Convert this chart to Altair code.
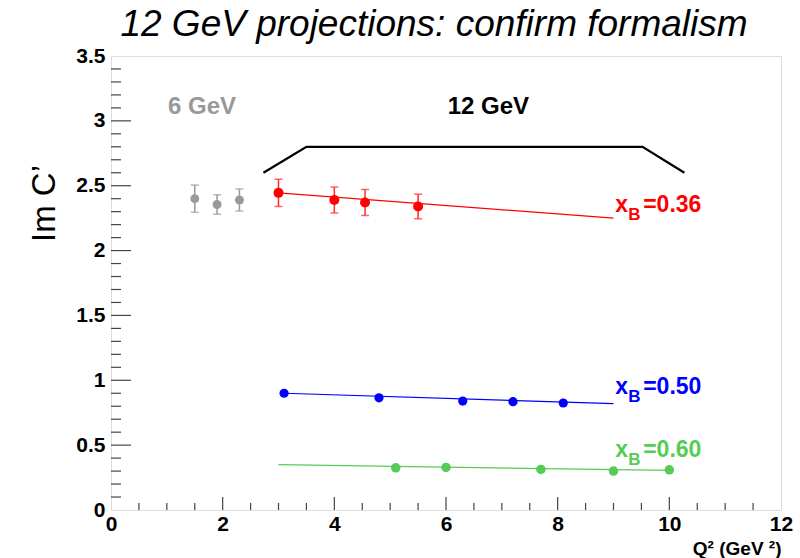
import altair as alt
import numpy as np
import pandas as pd

FONT = "Liberation Sans"

# ---- measurements ----------------------------------------------------------
# 6 GeV data (x_B = 0.36)
gray_q2 = [1.5, 1.9, 2.3]
gray_im = [2.40, 2.355, 2.39]
gray_err = [0.105, 0.075, 0.085]

# 12 GeV projections
red_q2 = [3.0, 4.0, 4.55, 5.5]
red_im = [2.445, 2.39, 2.37, 2.34]
red_err = [0.105, 0.10, 0.10, 0.095]

blue_q2 = [3.1, 4.8, 6.3, 7.2, 8.1]
blue_im = [0.90, 0.865, 0.84, 0.835, 0.825]

green_q2 = [5.1, 6.0, 7.7, 9.0, 10.0]
green_im = [0.325, 0.328, 0.313, 0.30, 0.31]

# model curves
red_fit_q2 = [3.0, 9.0]
red_fit_im = [2.445, 2.25]
blue_fit_q2 = [3.1, 9.0]
blue_fit_im = [0.90, 0.82]
green_fit_q2 = [3.0, 10.0]
green_fit_im = [0.35, 0.305]

# bracket marking the 12 GeV reach
bracket_q2 = [2.73, 3.5, 9.52, 10.27]
bracket_im = [2.60, 2.80, 2.80, 2.60]

# curve labels
xb_values = ["=0.36", "=0.50", "=0.60"]
xb_q2 = [9.03, 9.03, 9.03]
xb_im = [2.30, 0.898, 0.41]
xb_colors = ["#ff0000", "#0000ff", "#55cc55"]

# beam-energy labels
beam_text = ["6 GeV", "12 GeV"]
beam_q2 = [1.02, 6.03]
beam_im = [3.05, 3.05]
beam_colors = ["#999999", "#000000"]

# axis ticks
x_labels = [0, 2, 4, 6, 8, 10, 12]
y_labels = [0, 0.5, 1, 1.5, 2, 2.5, 3, 3.5]
x_major = [2, 4, 6, 8, 10]
x_minor = [v for v in np.round(np.arange(0.5, 12, 0.5), 2) if v not in x_major]
y_major = [0.5, 1, 1.5, 2, 2.5, 3]
y_minor = [v for v in np.round(np.arange(0.1, 3.5, 0.1), 2) if v not in y_major]

# ---- scales / axes ----------------------------------------------------------
xs = alt.Scale(domain=[0, 12], nice=False, zero=False)
ys = alt.Scale(domain=[0, 3.5], nice=False, zero=False)

x_axis = alt.Axis(
    values=x_labels, ticks=False, domain=False, grid=False,
    labelFont=FONT, labelFontSize=21, labelFontWeight="bold", labelColor="black",
    labelPadding=3, labelFlush=False, labelOverlap=False, labelBound=False,
    title="Q² (GeV ²)", titleFont=FONT, titleFontSize=19, titleFontWeight="bold",
    titleColor="black", titleX=670, titleY=38, titleAlign="right",
    titleBaseline="middle", titleAnchor="end",
)
y_axis = alt.Axis(
    values=y_labels, format="~g", ticks=False, domain=False, grid=False,
    labelFont=FONT, labelFontSize=21, labelFontWeight="bold", labelColor="black",
    labelPadding=6, labelFlush=False, labelOverlap=False, labelBound=False,
    title="Im C’", titleFont=FONT, titleFontSize=33, titleFontWeight="normal",
    titleColor="black", titleAngle=270, titleX=-67, titleY=147,
    titleAlign="center", titleBaseline="middle",
)


def X(field):
    return alt.X(f"{field}:Q", scale=xs, axis=x_axis)


def Y(field):
    return alt.Y(f"{field}:Q", scale=ys, axis=y_axis)


def frame(q2, im, **extra):
    d = pd.DataFrame({"q2": q2, "im": im})
    for k, v in extra.items():
        d[k] = v
    return d


layers = []

# inward ticks on the frame
AX = "#444444"
layers.append(alt.Chart(frame([0] * len(y_major), y_major)).mark_rule(color=AX, strokeWidth=1.2)
              .encode(y=Y("im"), x=alt.value(0), x2=alt.value(20)))
layers.append(alt.Chart(frame([0] * len(y_minor), y_minor)).mark_rule(color=AX, strokeWidth=1.2)
              .encode(y=Y("im"), x=alt.value(0), x2=alt.value(10)))
layers.append(alt.Chart(frame(x_major, [0] * len(x_major))).mark_rule(color=AX, strokeWidth=1.2)
              .encode(x=X("q2"), y=alt.value(454), y2=alt.value(441)))
layers.append(alt.Chart(frame(x_minor, [0] * len(x_minor))).mark_rule(color=AX, strokeWidth=1.2)
              .encode(x=X("q2"), y=alt.value(454), y2=alt.value(447)))

# bracket
layers.append(alt.Chart(frame(bracket_q2, bracket_im, o=range(4)))
              .mark_line(color="black", strokeWidth=2.2)
              .encode(x=X("q2"), y=Y("im"), order="o:O"))

# fit lines
for q, v, c in [(red_fit_q2, red_fit_im, "#ff0000"),
                (blue_fit_q2, blue_fit_im, "#0000ff"),
                (green_fit_q2, green_fit_im, "#55cc55")]:
    layers.append(alt.Chart(frame(q, v)).mark_line(color=c, strokeWidth=1.2)
                  .encode(x=X("q2"), y=Y("im")))

# error bars with caps
for q, v, e, c in [(gray_q2, gray_im, gray_err, "#9a9a9a"),
                   (red_q2, red_im, red_err, "#ff2a2a")]:
    d = frame(q, v, err=e)
    d["lo"] = d["im"] - d["err"]
    d["hi"] = d["im"] + d["err"]
    base = alt.Chart(d)
    layers.append(base.mark_rule(color=c, strokeWidth=1.5)
                  .encode(x=X("q2"), y=Y("lo"), y2="hi:Q"))
    for f in ["lo", "hi"]:
        layers.append(base.mark_tick(color=c, thickness=1.5, size=8, orient="horizontal")
                      .encode(x=X("q2"), y=Y(f)))

# points
for q, v, c, s in [(gray_q2, gray_im, "#9a9a9a", 80),
                   (red_q2, red_im, "#ff0000", 100),
                   (blue_q2, blue_im, "#0000ff", 85),
                   (green_q2, green_im, "#55cc55", 90)]:
    layers.append(alt.Chart(frame(q, v)).mark_circle(color=c, size=s, opacity=1)
                  .encode(x=X("q2"), y=Y("im")))

# beam-energy labels
beam = frame(beam_q2, beam_im, text=beam_text, color=beam_colors)
layers.append(alt.Chart(beam).mark_text(font=FONT, fontSize=24, fontWeight="bold",
                                        align="left", baseline="alphabetic")
              .encode(x=X("q2"), y=Y("im"), text="text:N",
                      color=alt.Color("color:N", scale=None)))

# x_B labels: "x", subscript "B", value
xb = frame(xb_q2, xb_im, text=xb_values, color=xb_colors)
xb_base = alt.Chart(xb)
enc = dict(x=X("q2"), y=Y("im"), color=alt.Color("color:N", scale=None))
layers.append(xb_base.mark_text(text="x", font=FONT, fontSize=23, fontWeight="bold",
                                align="left", baseline="alphabetic").encode(**enc))
layers.append(xb_base.mark_text(text="B", font=FONT, fontSize=17, fontWeight="bold",
                                align="left", baseline="alphabetic", dx=13, dy=8).encode(**enc))
layers.append(xb_base.mark_text(font=FONT, fontSize=23, fontWeight="bold",
                                align="left", baseline="alphabetic", dx=28)
              .encode(text="text:N", **enc))

chart = (
    alt.layer(*layers)
    .properties(
        width=670, height=454,
        autosize=alt.AutoSizeParams(type="none"),
        padding={"left": 111, "top": 56, "right": 19, "bottom": 48},
        title=alt.TitleParams(
            "12 GeV projections: confirm formalism", font=FONT, fontSize=37,
            fontStyle="italic", fontWeight="normal", color="black",
            anchor="middle", dx=-12, dy=45, offset=9, baseline="bottom",
        ),
    )
    .configure_view(stroke="#444444", strokeWidth=1.5)
    .configure(background="white")
)

chart.save("out.html", embed_options={"renderer": "svg", "actions": False})
